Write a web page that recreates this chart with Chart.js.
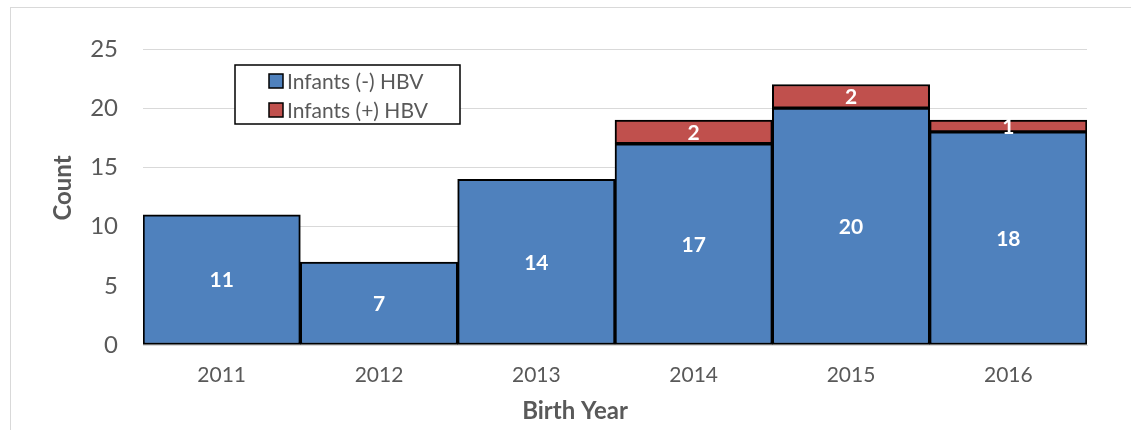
<!DOCTYPE html>
<html>
<head>
<meta charset="utf-8">
<script src="https://cdn.jsdelivr.net/npm/chart.js@4.4.1/dist/chart.umd.min.js"></script>
<style>
  html, body { margin: 0; padding: 0; background: #ffffff; }
  #wrap { position: relative; width: 1131px; height: 430px; overflow: hidden; background: #fff; }
  #frame { position: absolute; left: 10px; top: 7px; width: 1200px; height: 500px; border: 1px solid #d9d9d9; box-sizing: border-box; }
  #chartbox { position: absolute; left: 0; top: 0; width: 1131px; height: 430px; }
</style>
</head>
<body>
<div id="wrap">
  <div id="frame"></div>
  <div id="chartbox"><canvas id="c" width="1131" height="430"></canvas></div>
</div>
<script>
const categories = ["2011", "2012", "2013", "2014", "2015", "2016"];
const negativeHBV = [11, 7, 14, 17, 20, 18];
const positiveHBV = [0, 0, 0, 2, 2, 1];
const seriesNames = ["Infants (-) HBV", "Infants (+) HBV"];
const yTicks = [0, 5, 10, 15, 20, 25];
const xTitle = "Birth Year";
const yTitle = "Count";

const FONT = "Lato, 'Open Sans', 'Liberation Sans', sans-serif";
const GRAY = "#595959";

const dataLabels = {
  id: "dataLabels",
  afterDatasetsDraw(chart) {
    const ctx = chart.ctx;
    ctx.save();
    ctx.fillStyle = "#ffffff";
    ctx.font = "bold 21px " + FONT;
    ctx.textAlign = "center";
    ctx.textBaseline = "middle";
    chart.data.datasets.forEach((ds, di) => {
      const meta = chart.getDatasetMeta(di);
      meta.data.forEach((bar, i) => {
        const v = ds.data[i];
        if (!v) return;
        const p = bar.getProps(["x", "y", "base"], true);
        ctx.fillText(String(v), p.x, (p.y + p.base) / 2 + 1);
      });
    });
    ctx.restore();
  }
};

const axisTitles = {
  id: "axisTitles",
  afterDraw(chart) {
    const ctx = chart.ctx;
    ctx.save();
    ctx.fillStyle = GRAY;
    ctx.font = "bold 24px " + FONT;
    ctx.textAlign = "center";
    ctx.textBaseline = "middle";
    ctx.fillText(xTitle, 575, 411);
    ctx.translate(63, 188);
    ctx.rotate(-Math.PI / 2);
    ctx.fillText(yTitle, 0, 0);
    ctx.restore();
  }
};

const boxLegend = {
  id: "boxLegend",
  afterDraw(chart) {
    const ctx = chart.ctx;
    const x = 235, y = 65, w = 225, h = 59;
    ctx.save();
    ctx.fillStyle = "#ffffff";
    ctx.fillRect(x, y, w, h);
    ctx.strokeStyle = "#000000";
    ctx.lineWidth = 1.5;
    ctx.strokeRect(x, y, w, h);
    ctx.font = "21px " + FONT;
    ctx.textBaseline = "middle";
    ctx.textAlign = "left";
    chart.data.datasets.forEach((ds, i) => {
      const cy = y + 16 + i * 29;
      ctx.fillStyle = ds.backgroundColor;
      ctx.fillRect(x + 34, cy - 7, 14, 14);
      ctx.strokeStyle = "#000";
      ctx.lineWidth = 1.5;
      ctx.strokeRect(x + 34, cy - 7, 14, 14);
      ctx.fillStyle = GRAY;
      ctx.fillText(ds.label, x + 52, cy + 1);
    });
    ctx.restore();
  }
};

new Chart(document.getElementById("c"), {
  type: "bar",
  data: {
    labels: categories,
    datasets: [
      { label: seriesNames[0], data: negativeHBV, backgroundColor: "#4F81BD", borderColor: "#000000", borderWidth: 2, borderSkipped: false, barPercentage: 1, categoryPercentage: 1 },
      { label: seriesNames[1], data: positiveHBV, backgroundColor: "#C0504D", borderColor: "#000000", borderWidth: 2, borderSkipped: false, barPercentage: 1, categoryPercentage: 1 }
    ]
  },
  options: {
    responsive: false,
    animation: false,
    layout: { padding: { top: 49, right: 44, left: 0, bottom: 0 } },
    plugins: { legend: { display: false }, tooltip: { enabled: false } },
    scales: {
      x: {
        stacked: true,
        grid: { display: false, drawTicks: false },
        border: { display: true, color: "#d9d9d9", width: 1 },
        ticks: { color: GRAY, font: { family: FONT, size: 21 }, padding: 18 },
        afterFit(scale) { scale.height = 85; }
      },
      y: {
        stacked: true,
        min: 0, max: 25,
        afterBuildTicks(scale) { scale.ticks = yTicks.map(v => ({ value: v })); },
        grid: { color: "#d9d9d9", lineWidth: 1, drawTicks: false },
        border: { display: false },
        ticks: { color: GRAY, font: { family: FONT, size: 24 }, padding: 25 },
        afterFit(scale) { scale.width = 143; }
      }
    }
  },
  plugins: [dataLabels, axisTitles, boxLegend]
});
</script>
</body>
</html>
